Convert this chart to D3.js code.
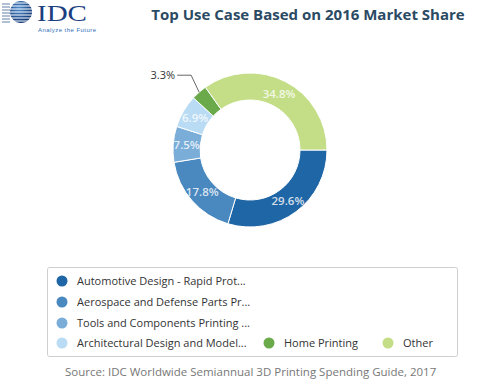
<!DOCTYPE html>
<html><head><meta charset="utf-8">
<script src="https://cdn.jsdelivr.net/npm/d3@7"></script>
<style>body{margin:0;background:#fff}svg{display:block}</style>
</head><body>
<svg id="c" width="500" height="382"></svg>
<script>
const categories = ["Automotive Design - Rapid Prot...", "Aerospace and Defense Parts Pr...", "Tools and Components Printing ...", "Architectural Design and Model...", "Home Printing", "Other"];
const shares = [29.6, 17.8, 7.5, 6.9, 3.3, 34.8];
const colors = ["#1f66a6", "#4a88c0", "#7aaed8", "#b9dbf3", "#6aaa4a", "#c4de88"];
const titleText = "Top Use Case Based on 2016 Market Share";
const sourceText = "Source: IDC Worldwide Semiannual 3D Printing Spending Guide, 2017";

const svg = d3.select("#c");

// Logo
const logo = svg.append("g");
const defs = svg.append("defs");
const gr = defs.append("radialGradient").attr("id","glob").attr("cx","40%").attr("cy","35%").attr("r","70%");
gr.append("stop").attr("offset","0%").attr("stop-color","#4f8fd0");
gr.append("stop").attr("offset","100%").attr("stop-color","#0d2f6e");
logo.append("circle").attr("cx",21).attr("cy",12).attr("r",11).attr("fill","url(#glob)");
d3.range(7).forEach(i=>{
  const y = 3 + i*3;
  logo.append("line").attr("x1",3).attr("x2",36).attr("y1",y).attr("y2",y)
    .attr("stroke","#fff").attr("stroke-width",1);
  logo.append("line").attr("x1",2).attr("x2",10).attr("y1",y+1).attr("y2",y+1)
    .attr("stroke","#3b5f96").attr("stroke-width",0.8);
});
logo.append("text").attr("x",37).attr("y",21).attr("font-family","Liberation Serif, serif")
  .attr("font-size",23).attr("fill","#1b3f80").attr("textLength",50).attr("lengthAdjust","spacingAndGlyphs").text("IDC");
logo.append("text").attr("x",38).attr("y",32).attr("font-family","Liberation Sans, sans-serif")
  .attr("font-size",6).attr("fill","#2f6fb8").attr("textLength",58).text("Analyze the Future");

// Title
svg.append("text").attr("x",308).attr("y",20).attr("text-anchor","middle")
  .attr("font-family","Open Sans, sans-serif").attr("font-weight","bold").attr("font-size",15)
  .attr("fill","#2b4a63").text(titleText);

// Donut
const cx = 250, cy = 150, rOut = 77, rIn = 50;
const data = categories.map((c,i)=>({name:c, value:shares[i], color:colors[i]}));
const pie = d3.pie().value(d=>d.value).sort(null).startAngle(Math.PI/2).endAngle(Math.PI/2 + 2*Math.PI);
const arcs = pie(data);
const arc = d3.arc().innerRadius(rIn).outerRadius(rOut);
const g = svg.append("g").attr("transform",`translate(${cx},${cy})`);
g.selectAll("path").data(arcs).join("path").attr("d",arc)
  .attr("fill",d=>d.data.color).attr("stroke","#fff").attr("stroke-width",1);

const labelArc = d3.arc().innerRadius(63.5).outerRadius(63.5);
g.selectAll("text.in").data(arcs.filter(d=>d.data.value>5)).join("text").attr("class","in")
  .attr("transform",d=>`translate(${labelArc.centroid(d)})`)
  .attr("text-anchor","middle").attr("dy","0.35em")
  .attr("font-family","Open Sans, sans-serif").attr("font-size",11.5).attr("font-weight","600")
  .attr("fill","#fff").attr("fill-opacity",0.8).text(d=>d.data.value.toFixed(1)+"%");

// outside label for small slice
arcs.filter(d=>d.data.value<=5).forEach(d=>{
  const a = (d.startAngle+d.endAngle)/2;
  const px = Math.sin(a)*rOut, py = -Math.cos(a)*rOut;
  const ex = px-8, ey = py-17;
  g.append("polyline").attr("points",`${px},${py} ${ex},${ey} ${ex-14},${ey}`)
    .attr("fill","none").attr("stroke","#666").attr("stroke-width",1);
  g.append("text").attr("x",ex-16).attr("y",ey).attr("dy","0.35em").attr("text-anchor","end")
    .attr("font-family","Open Sans, sans-serif").attr("font-size",11).attr("fill","#333")
    .text(d.data.value.toFixed(1)+"%");
});

// Legend
svg.append("rect").attr("x",47.5).attr("y",267.5).attr("width",410).attr("height",89)
  .attr("rx",2).attr("fill","#fff").attr("stroke","#cfcfcf");
const legPos = [[62,281],[62,302],[62,323],[62,343],[269,343],[388,343]];
const leg = svg.append("g").selectAll("g").data(data).join("g")
  .attr("transform",(d,i)=>`translate(${legPos[i][0]},${legPos[i][1]})`);
leg.append("circle").attr("r",5.5).attr("fill",d=>d.color);
leg.append("text").attr("x",15).attr("dy","0.35em")
  .attr("font-family","Open Sans, sans-serif").attr("font-size",11).attr("fill","#333")
  .text(d=>d.name);

// Source
svg.append("text").attr("x",65).attr("y",376)
  .attr("font-family","Open Sans, sans-serif").attr("font-size",11.5).attr("fill","#777")
  .text(sourceText);
</script>
</body></html>
